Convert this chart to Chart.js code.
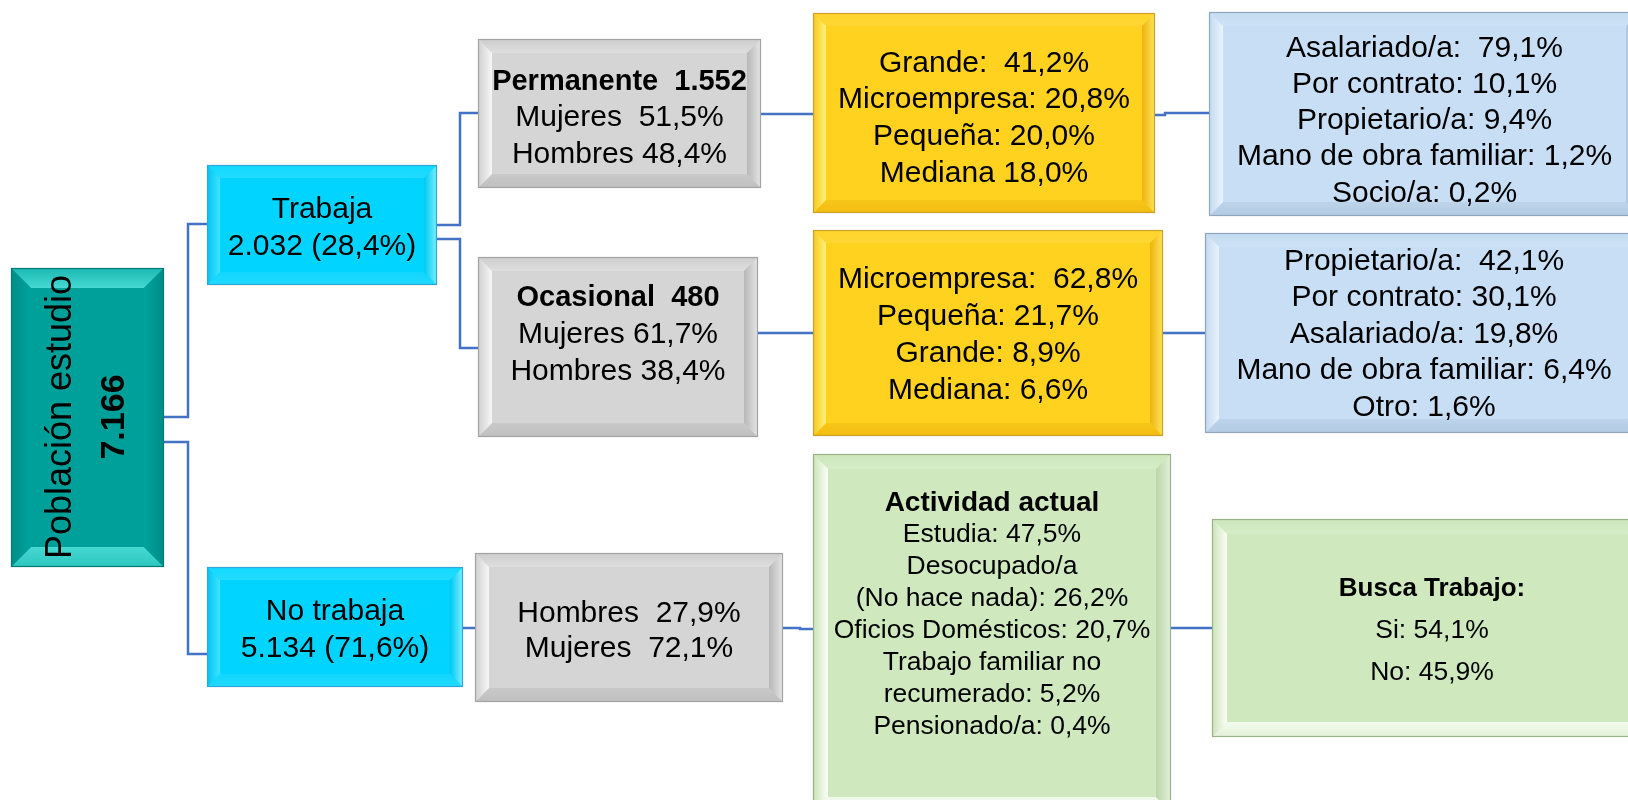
<!DOCTYPE html>
<html>
<head>
<meta charset="utf-8">
<script src="https://cdn.jsdelivr.net/npm/chart.js@4.4.1/dist/chart.umd.min.js"></script>
<style>
html,body{margin:0;padding:0;background:#ffffff;overflow:hidden;}
#wrap{width:1628px;height:800px;position:relative;}
</style>
</head>
<body>
<div id="wrap"><canvas id="c" width="1628" height="800"></canvas></div>
<script>
// ---------------- DATA ----------------
const rootTitle = 'Población estudio';
const rootTotal = '7.166';

const statusNames  = ['Trabaja', 'No trabaja'];
const statusCounts = ['2.032', '5.134'];
const statusShares = ['28,4%', '71,6%'];

const contractNames  = ['Permanente', 'Ocasional'];
const contractCounts = ['1.552', '480'];
const contractWomen  = ['51,5%', '61,7%'];
const contractMen    = ['48,4%', '38,4%'];

const firmLabelsPermanent = ['Grande:  ', 'Microempresa: ', 'Pequeña: ', 'Mediana '];
const firmValuesPermanent = [41.2, 20.8, 20.0, 18.0];
const firmLabelsOccasional = ['Microempresa:  ', 'Pequeña: ', 'Grande: ', 'Mediana: '];
const firmValuesOccasional = [62.8, 21.7, 8.9, 6.6];

const roleLabelsPermanent = ['Asalariado/a:  ', 'Por contrato: ', 'Propietario/a: ', 'Mano de obra familiar: ', 'Socio/a: '];
const roleValuesPermanent = [79.1, 10.1, 9.4, 1.2, 0.2];
const roleLabelsOccasional = ['Propietario/a:  ', 'Por contrato: ', 'Asalariado/a: ', 'Mano de obra familiar: ', 'Otro: '];
const roleValuesOccasional = [42.1, 30.1, 19.8, 6.4, 1.6];

const noWorkSexLabels = ['Hombres  ', 'Mujeres  '];
const noWorkSexValues = [27.9, 72.1];

const activityTitle = 'Actividad actual';
const activityLabels = ['Estudia: ', 'Desocupado/a\n(No hace nada): ', 'Oficios Domésticos: ', 'Trabajo familiar no\nrecumerado: ', 'Pensionado/a: '];
const activityValues = [47.5, 26.2, 20.7, 5.2, 0.4];

const searchTitle = 'Busca Trabajo:';
const searchLabels = ['Si: ', 'No: '];
const searchValues = [54.1, 45.9];

// ---------------- helpers ----------------
const pct = v => v.toFixed(1).replace('.', ',') + '%';
const pairLines = (labels, values) => labels.map((l, i) => (l + pct(values[i]))).join('\n').split('\n');

// ---------------- LAYOUT (diagram units = canvas px) ----------------
const FONT = '"Liberation Sans", Arial, sans-serif';
const layout = {
  root:   {box: [11, 268, 164, 567],   pal: 'teal',   bevel: 20, rot: true, tx: 87, ty: 417, lh: 53},
  work:   {box: [207, 165, 437, 285],  pal: 'cyan',   bevel: 13, ty: 227, lh: 37},
  nowork: {box: [207, 567, 463, 687],  pal: 'cyan',   bevel: 13, ty: 629, lh: 37},
  perm:   {box: [478, 39, 761, 188],   pal: 'gray',   bevel: 14, ty: 117, lh: 36.5},
  occ:    {box: [478, 257, 758, 437],  pal: 'gray',   bevel: 14, ty: 334, lh: 37},
  sexNo:  {box: [475, 553, 783, 702],  pal: 'gray',   bevel: 14, ty: 630, lh: 35},
  firm1:  {box: [813, 13, 1155, 213],  pal: 'yellow', bevel: 13, ty: 117.5, lh: 36.7},
  firm2:  {box: [813, 230, 1163, 436], pal: 'yellow', bevel: 13, ty: 334, lh: 37},
  role1:  {box: [1209, 12, 1640, 216], pal: 'blue',   bevel: 14, ty: 120, lh: 36.2},
  role2:  {box: [1205, 233, 1643, 433],pal: 'blue',   bevel: 14, ty: 333.5, lh: 36.5},
  act:    {box: [813, 454, 1171, 812], pal: 'green',  bevel: 15, ty: 614, lh: 32},
  search: {box: [1212, 519, 1652, 737],pal: 'green',  bevel: 15, ty: 630, lh: 42}
};
// links: [from, to, exitY, elbowX, entryY]
const links = [
  ['root', 'work', 417, 188, 224],
  ['root', 'nowork', 442, 188, 654],
  ['work', 'perm', 225, 460, 113],
  ['work', 'occ', 239, 460, 348],
  ['perm', 'firm1', 114, 787, 114],
  ['firm1', 'role1', 115, 1165, 113],
  ['occ', 'firm2', 333, 785, 333],
  ['firm2', 'role2', 333, 1184, 333],
  ['nowork', 'sexNo', 628, 469, 628],
  ['sexNo', 'act', 628, 800, 629],
  ['act', 'search', 628, 1190, 628]
];
const palettes = {
  teal:   {face:'#00A09A', top:['#1BB8B1','#45D9D2'], bottom:['#2CC6BF','#45D9D2'], left:['#008C86','#00A39D'], right:['#008C86','#00A39D'], border:'#007A75'},
  cyan:   {face:'#00D4FF', top:['#12D8FF','#22DCFF'], bottom:['#22DAFF','#10D6FF'], left:['#00C4F0','#3EE3FF'], right:['#7AF0FF','#00C8F2'], border:'#2EA6D6'},
  gray:   {face:'#D5D5D5', top:['#CDCDCD','#DEDEDE'], bottom:['#BFBFBF','#C9C9C9'], left:['#CFCFCF','#F7F7F7'], right:['#E6E6E6','#B7B7B7'], border:'#A3A3A3'},
  yellow: {face:'#FFD21F', top:['#FFD42C','#FFD633'], bottom:['#F3BC12','#F7C618'], left:['#F7C61B','#FFF27A'], right:['#FFE45A','#ECB40E'], border:'#C9A12A'},
  blue:   {face:'#C7DEF4', top:['#C4DBF1','#CDE2F6'], bottom:['#B3CBE3','#BCD3EA'], left:['#C3D9EF','#EAF3FC'], right:['#DDEAF7','#ADC6DF'], border:'#8EA7BF'},
  green:  {face:'#CFE8BE', top:['#CCE5BA','#D6EDC7'], bottom:['#E2F1D8','#F3FAEE'], left:['#CAE3B8','#FBFFF7'], right:['#E2F0D8','#BBD5A9'], border:'#9AB289'}
};

// text content per node (from the data arrays)
const T = (text, size, bold) => ({text, size, bold: !!bold});
const content = {
  root:   [T(rootTitle, 36), T(rootTotal, 34, true)],
  work:   [T(statusNames[0], 30), T(statusCounts[0] + ' (' + statusShares[0] + ')', 30)],
  nowork: [T(statusNames[1], 30), T(statusCounts[1] + ' (' + statusShares[1] + ')', 30)],
  perm:   [T(contractNames[0] + '  ' + contractCounts[0], 29, true), T('Mujeres  ' + contractWomen[0], 30), T('Hombres ' + contractMen[0], 30)],
  occ:    [T(contractNames[1] + '  ' + contractCounts[1], 29, true), T('Mujeres ' + contractWomen[1], 30), T('Hombres ' + contractMen[1], 30)],
  sexNo:  pairLines(noWorkSexLabels, noWorkSexValues).map(s => T(s, 30)),
  firm1:  pairLines(firmLabelsPermanent, firmValuesPermanent).map(s => T(s, 30)),
  firm2:  pairLines(firmLabelsOccasional, firmValuesOccasional).map(s => T(s, 30)),
  role1:  pairLines(roleLabelsPermanent, roleValuesPermanent).map(s => T(s, 30)),
  role2:  pairLines(roleLabelsOccasional, roleValuesOccasional).map(s => T(s, 30)),
  act:    [T(activityTitle, 28, true)].concat(pairLines(activityLabels, activityValues).map(s => T(s, 26.5))),
  search: [T(searchTitle, 26, true)].concat(pairLines(searchLabels, searchValues).map(s => T(s, 26.5)))
};

// connector datasets built from links + node boxes
const linkDatasets = links.map(([f, t, y1, xm, y2]) => {
  const a = layout[f].box, b = layout[t].box;
  return {
    type: 'scatter', showLine: true, tension: 0,
    data: [{x: a[2], y: y1}, {x: xm, y: y1}, {x: xm, y: y2}, {x: b[0], y: y2}],
    borderColor: '#4472C4', borderWidth: 2.5, pointRadius: 0, fill: false
  };
});

function poly(ctx, pts, fill) {
  ctx.beginPath();
  ctx.moveTo(pts[0][0], pts[0][1]);
  for (let i = 1; i < pts.length; i++) ctx.lineTo(pts[i][0], pts[i][1]);
  ctx.closePath();
  ctx.fillStyle = fill;
  ctx.fill();
}
function grad(ctx, x0, y0, x1, y1, c) {
  const g = ctx.createLinearGradient(x0, y0, x1, y1);
  g.addColorStop(0, c[0]); g.addColorStop(1, c[1]);
  return g;
}

const nodePlugin = {
  id: 'nodes',
  afterDatasetsDraw(chart) {
    const ctx = chart.ctx, sx = chart.scales.x, sy = chart.scales.y;
    ctx.save();
    for (const key of Object.keys(layout)) {
      const n = layout[key], p = palettes[n.pal];
      const x0 = sx.getPixelForValue(n.box[0]), x1 = sx.getPixelForValue(n.box[2]);
      const y0 = sy.getPixelForValue(n.box[1]), y1 = sy.getPixelForValue(n.box[3]);
      const b = n.bevel;
      ctx.fillStyle = p.face;
      ctx.fillRect(x0, y0, x1 - x0, y1 - y0);
      poly(ctx, [[x0, y0], [x1, y0], [x1 - b, y0 + b], [x0 + b, y0 + b]], grad(ctx, 0, y0, 0, y0 + b, p.top));
      poly(ctx, [[x0, y1], [x1, y1], [x1 - b, y1 - b], [x0 + b, y1 - b]], grad(ctx, 0, y1, 0, y1 - b, p.bottom));
      poly(ctx, [[x0, y0], [x0 + b, y0 + b], [x0 + b, y1 - b], [x0, y1]], grad(ctx, x0, 0, x0 + b, 0, p.left));
      poly(ctx, [[x1, y0], [x1 - b, y0 + b], [x1 - b, y1 - b], [x1, y1]], grad(ctx, x1, 0, x1 - b, 0, p.right));
      ctx.strokeStyle = p.border; ctx.lineWidth = 1.2;
      ctx.strokeRect(x0 + 0.5, y0 + 0.5, x1 - x0 - 1, y1 - y0 - 1);

      // text
      const lines = content[key];
      ctx.fillStyle = '#000000';
      ctx.textAlign = 'center';
      ctx.textBaseline = 'middle';
      const n0 = lines.length;
      if (n.rot) {
        ctx.save();
        ctx.translate(sx.getPixelForValue(n.tx), sy.getPixelForValue(n.ty));
        ctx.rotate(-Math.PI / 2);
        lines.forEach((l, i) => {
          ctx.font = (l.bold ? 'bold ' : '') + l.size + 'px ' + FONT;
          ctx.fillText(l.text, 0, (i - (n0 - 1) / 2) * n.lh + 1);
        });
        ctx.restore();
      } else {
        const cx = (x0 + x1) / 2, cy = sy.getPixelForValue(n.ty);
        lines.forEach((l, i) => {
          ctx.font = (l.bold ? 'bold ' : '') + l.size + 'px ' + FONT;
          ctx.fillText(l.text, cx, cy + (i - (n0 - 1) / 2) * n.lh + 1);
        });
      }
    }
    ctx.restore();
  }
};

new Chart(document.getElementById('c'), {
  type: 'scatter',
  data: { datasets: linkDatasets },
  options: {
    responsive: false,
    animation: false,
    layout: { padding: 0 },
    plugins: { legend: { display: false }, tooltip: { enabled: false } },
    scales: {
      x: { type: 'linear', min: 0, max: 1628, display: false },
      y: { type: 'linear', min: 0, max: 800, reverse: true, display: false }
    },
    events: []
  },
  plugins: [nodePlugin]
});
</script>
</body>
</html>
